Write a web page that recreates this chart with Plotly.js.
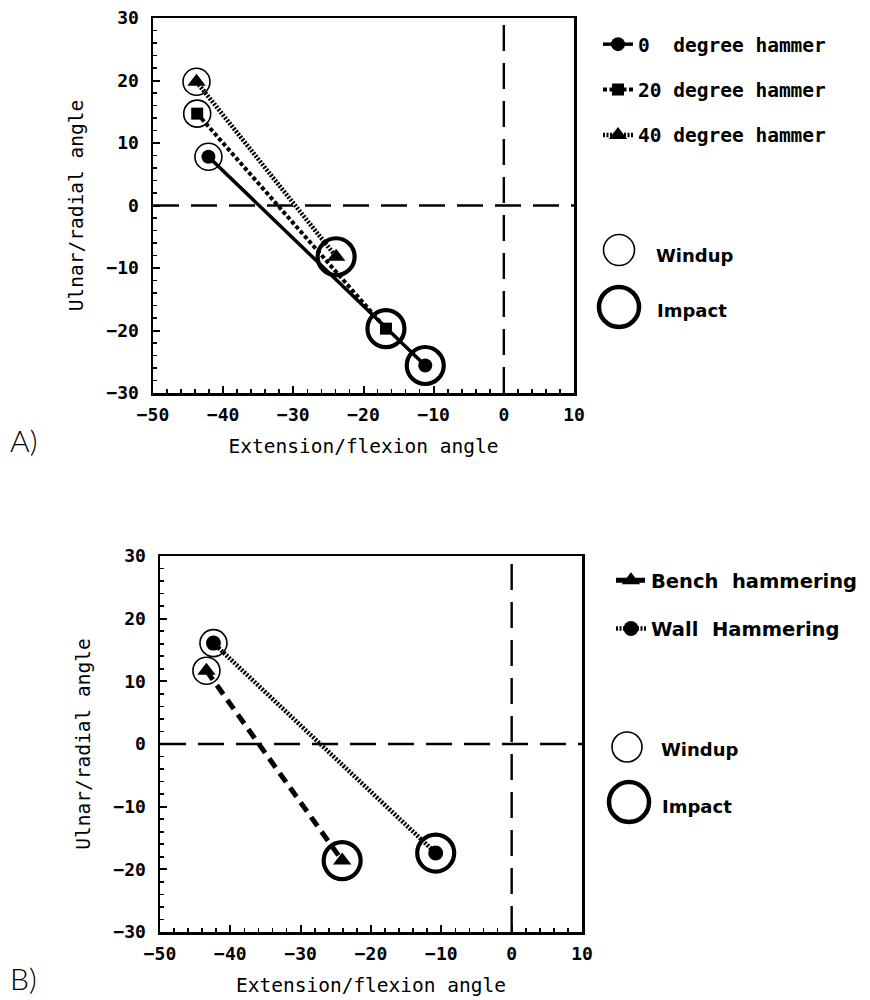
<!DOCTYPE html>
<html>
<head>
<meta charset="utf-8">
<script src="https://cdn.plot.ly/plotly-3.0.1.min.js"></script>
<style>html,body{margin:0;padding:0;background:#fff;}#chart{width:870px;height:1000px;}</style>
</head>
<body>
<div id="chart"></div>
<script>
// ---------- data ----------
// Panel A: windup -> impact for each hammer angle
const seriesA = ['0\u00a0 degree hammer', '20 degree hammer', '40 degree hammer'];
const deg0X = [-42.1, -11.2];
const deg0Y = [7.8, -25.6];
const deg20X = [-43.7, -16.8];
const deg20Y = [14.7, -19.7];
const deg40X = [-43.8, -23.9];
const deg40Y = [19.8, -8.2];

// Panel B: bench vs wall hammering
const seriesB = ['Bench\u00a0 hammering', 'Wall\u00a0 Hammering'];
const benchX = [-43.4, -24.1];
const benchY = [11.7, -18.6];
const wallX = [-42.4, -10.8];
const wallY = [16.1, -17.4];

const phaseNames = ['Windup', 'Impact'];
const xTitle = 'Extension/flexion angle';
const yTitle = 'Ulnar/radial angle';
const panelLabels = ['A)', 'B)'];
const xRange = [-50, 10];
const yRange = [-30, 30];
const refLine = 0;

// ---------- styling ----------
const W = 870, H = 1000;
const mono = 'DejaVu Sans Mono';
const sans = 'DejaVu Sans';
const BLACK = '#000';

function px(v){return v/W;}
function py(v){return 1 - v/H;}

function ringTraces(xs, ys, xa, ya){
  // index 0 = windup (thin ring), index 1 = impact (thick ring)
  return [
    {x:[xs[0]], y:[ys[0]], xaxis:xa, yaxis:ya, mode:'markers', showlegend:false, hoverinfo:'skip',
     marker:{symbol:'circle-open', size:27, color:BLACK, line:{width:1.6, color:BLACK}}},
    {x:[xs[1]], y:[ys[1]], xaxis:xa, yaxis:ya, mode:'markers', showlegend:false, hoverinfo:'skip',
     marker:{symbol:'circle-open', size:37, color:BLACK, line:{width:4.2, color:BLACK}}}
  ];
}

function series(xs, ys, name, sym, msize, dash, lw, xa, ya, legend, group){
  return {x:xs, y:ys, xaxis:xa, yaxis:ya, name:name, mode:'lines+markers', legend:legend, legendgroup:group,
    line:{color:BLACK, width:lw, dash:dash},
    marker:{symbol:sym, size:msize, color:BLACK}};
}

const traces = [
  ...ringTraces(deg0X, deg0Y, 'x', 'y'),
  ...ringTraces(deg20X, deg20Y, 'x', 'y'),
  ...ringTraces(deg40X, deg40Y, 'x', 'y'),
  ...ringTraces(benchX, benchY, 'x2', 'y2'),
  ...ringTraces(wallX, wallY, 'x2', 'y2'),
  series(deg0X, deg0Y, seriesA[0], 'circle', 14, 'solid', 3.5, 'x', 'y', 'legend', 'a0'),
  series(deg20X, deg20Y, seriesA[1], 'square', 12, '4px,2.5px', 4, 'x', 'y', 'legend', 'a1'),
  series(deg40X, deg40Y, seriesA[2], 'triangle-up', 16, '2px,1.5px', 4.5, 'x', 'y', 'legend', 'a2'),
  series(benchX, benchY, seriesB[0], 'triangle-up', 16, '11px,7px', 5, 'x2', 'y2', 'legend2', 'b0'),
  series(wallX, wallY, seriesB[1], 'circle', 15, '2px,1.5px', 4.5, 'x2', 'y2', 'legend2', 'b1')
];

function xAxis(domain, anchor){
  return {domain:domain, anchor:anchor, range:xRange, tick0:0, dtick:10,
    ticks:'inside', ticklen:7, tickwidth:2, tickcolor:BLACK,
    minor:{dtick:2, ticks:'inside', ticklen:4, tickwidth:1.6, tickcolor:BLACK, showgrid:false},
    showline:true, mirror:true, linewidth:2.5, linecolor:BLACK,
    zeroline:false, showgrid:false, ticklabelstandoff:4,
    tickfont:{family:mono, size:18, weight:'bold', color:BLACK},
    title:{text:xTitle, font:{family:mono, size:19.5, color:BLACK}, standoff:16},
    fixedrange:true};
}
function yAxis(domain, anchor){
  return {domain:domain, anchor:anchor, range:yRange, tick0:0, dtick:10,
    ticks:'inside', ticklen:7, tickwidth:2, tickcolor:BLACK,
    minor:{dtick:2, ticks:'inside', ticklen:4, tickwidth:1.6, tickcolor:BLACK, showgrid:false},
    showline:true, mirror:true, linewidth:2.5, linecolor:BLACK,
    zeroline:false, showgrid:false, ticklabelstandoff:8,
    tickfont:{family:mono, size:18, weight:'bold', color:BLACK},
    title:{text:yTitle, font:{family:mono, size:19.5, color:BLACK}, standoff:18},
    fixedrange:true};
}

// reference dashed lines at 0 on both axes
function refShapes(xr, yr){
  return [
    {type:'line', xref:xr, yref:yr+' domain', x0:refLine, x1:refLine, y0:0, y1:1,
     line:{color:BLACK, width:2.4, dash:'26px,12px'}},
    {type:'line', xref:xr+' domain', yref:yr, x0:0, x1:1, y0:refLine, y1:refLine,
     line:{color:BLACK, width:2.4, dash:'26px,12px'}}
  ];
}
// legend rings for windup / impact
function legendRing(cx, cy, d, lw){
  return {type:'circle', xref:'paper', yref:'paper', xsizemode:'pixel', ysizemode:'pixel',
    xanchor:px(cx), yanchor:py(cy), x0:-d/2, x1:d/2, y0:-d/2, y1:d/2,
    line:{color:BLACK, width:lw}};
}
function legendText(txt, x, y){
  return {text:txt, xref:'paper', yref:'paper', x:px(x), y:py(y), xanchor:'left', yanchor:'middle',
    showarrow:false, font:{family:sans, size:18, weight:'bold', color:BLACK}};
}

const layout = {
  width:W, height:H, margin:{l:0, r:0, t:0, b:0},
  paper_bgcolor:'#fff', plot_bgcolor:'#fff',
  xaxis: xAxis([px(153), px(574)], 'y'),
  yaxis: yAxis([py(393), py(18)], 'x'),
  xaxis2: xAxis([px(160), px(582)], 'y2'),
  yaxis2: yAxis([py(932), py(556)], 'x2'),
  legend:{x:px(598), y:py(25), xanchor:'left', yanchor:'top', traceorder:'grouped', tracegroupgap:17,
    bgcolor:'rgba(0,0,0,0)', font:{family:mono, size:19.5, weight:'bold', color:BLACK}, itemwidth:30},
  legend2:{x:px(611), y:py(561), xanchor:'left', yanchor:'top', traceorder:'grouped', tracegroupgap:20,
    bgcolor:'rgba(0,0,0,0)', font:{family:sans, size:19.5, weight:'bold', color:BLACK}, itemwidth:30},
  shapes:[
    ...refShapes('x', 'y'), ...refShapes('x2', 'y2'),
    legendRing(619, 250, 31, 1.6), legendRing(619, 307, 40, 4.5),
    legendRing(627, 747, 30, 1.6), legendRing(629, 802, 40, 4.5)
  ],
  annotations:[
    legendText(phaseNames[0], 654, 255), legendText(phaseNames[1], 655, 310),
    legendText(phaseNames[0], 659, 749), legendText(phaseNames[1], 660, 806),
    {text:panelLabels[0], xref:'paper', yref:'paper', x:px(8), y:py(440), xanchor:'left', yanchor:'middle',
     showarrow:false, font:{family:'Lato', size:30, weight:300, color:BLACK}},
    {text:panelLabels[1], xref:'paper', yref:'paper', x:px(8), y:py(978), xanchor:'left', yanchor:'middle',
     showarrow:false, font:{family:'Lato', size:30, weight:300, color:BLACK}}
  ],
  showlegend:true
};

Plotly.newPlot('chart', traces, layout, {displayModeBar:false, staticPlot:true});
</script>
</body>
</html>
